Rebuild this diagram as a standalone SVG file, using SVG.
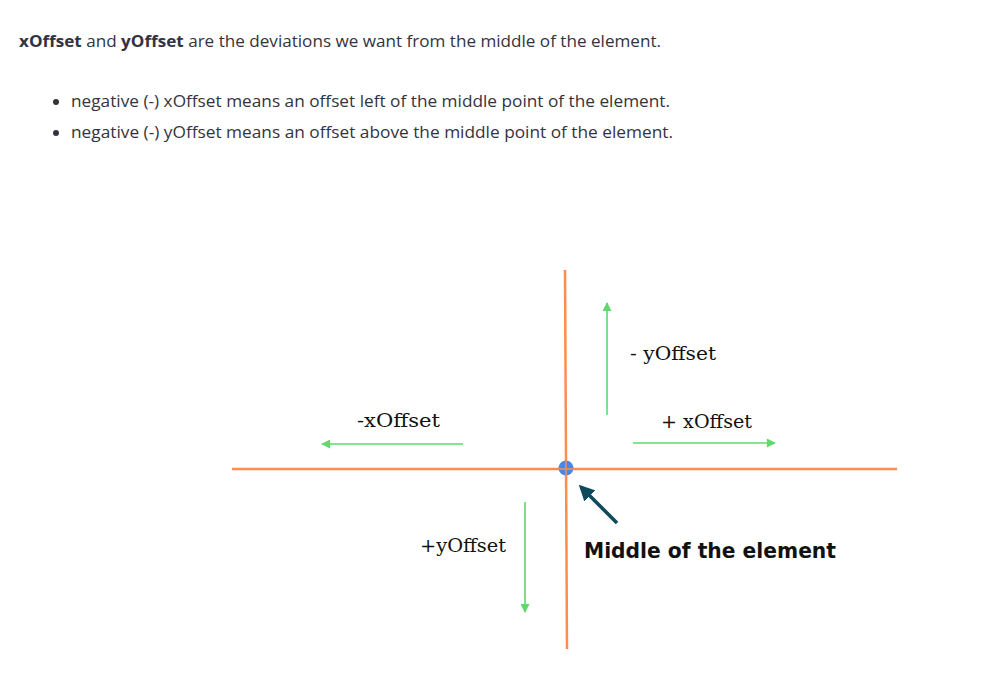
<svg xmlns="http://www.w3.org/2000/svg" width="999" height="684" viewBox="0 0 999 684">
<style>
.body{font-family:"Open Sans","Liberation Sans",sans-serif;font-size:16.5px;fill:#333340}
.b{font-weight:bold}
.lbl{font-family:"DejaVu Serif","Liberation Serif",serif;font-size:19px;fill:#111}
.mid{font-family:"DejaVu Sans","Liberation Sans",sans-serif;font-size:21px;font-weight:bold;fill:#111}
.axis{stroke:#ff8c4f;stroke-width:2.5;fill:none}
.g{stroke:#5fd96e;stroke-width:1.6;fill:none}
</style>
<defs>
<marker id="ga" viewBox="0 0 10 10" refX="9" refY="5" markerWidth="10" markerHeight="9" markerUnits="userSpaceOnUse" orient="auto"><path d="M0,0 L10,5 L0,10 z" fill="#5fd96e"/></marker>
<marker id="da" viewBox="0 0 10 10" refX="8" refY="5" markerWidth="4.5" markerHeight="4.5" orient="auto"><path d="M0,0 L10,5 L0,10 z" fill="#0d4a5c"/></marker>
</defs>
<rect width="999" height="684" fill="#fff"/>
<g id="intro">
<text class="body" x="19" y="47" textLength="642" lengthAdjust="spacingAndGlyphs"><tspan class="b">xOffset</tspan> and <tspan class="b">yOffset</tspan> are the deviations we want from the middle of the element.</text>
<circle cx="56" cy="102" r="3" fill="#333340"/>
<text class="body" x="71" y="107" textLength="599" lengthAdjust="spacingAndGlyphs">negative (-) xOffset means an offset left of the middle point of the element.</text>
<circle cx="56" cy="133" r="3" fill="#333340"/>
<text class="body" x="71" y="138" textLength="602" lengthAdjust="spacingAndGlyphs">negative (-) yOffset means an offset above the middle point of the element.</text>
</g>
<g id="axes">
<line class="axis" x1="565" y1="270" x2="567" y2="649"/>
<line class="axis" x1="232" y1="469" x2="897" y2="469"/>
</g>
<g id="connectors">
<line class="g" x1="607" y1="415" x2="607" y2="303" marker-end="url(#ga)"/>
<line class="g" x1="463" y1="444" x2="322" y2="444" marker-end="url(#ga)"/>
<line class="g" x1="633" y1="443" x2="775" y2="443" marker-end="url(#ga)"/>
<line class="g" x1="525" y1="502" x2="525" y2="612" marker-end="url(#ga)"/>
<line x1="617" y1="523" x2="581" y2="487" stroke="#0d4a5c" stroke-width="3.5" marker-end="url(#da)"/>
</g>
<g id="middle-point">
<circle cx="566" cy="468" r="7.5" fill="#4a88e8"/>
<line x1="566" y1="460" x2="566" y2="476" stroke="#ff8c4f" stroke-width="1.5"/>
<line x1="558" y1="469" x2="574" y2="469" stroke="#ff8c4f" stroke-width="1.5"/>
</g>
<g id="labels">
<text class="lbl" x="357" y="427" textLength="83" lengthAdjust="spacingAndGlyphs">-xOffset</text>
<text class="lbl" x="630" y="360" textLength="86" lengthAdjust="spacingAndGlyphs">- yOffset</text>
<text class="lbl" x="661" y="428" textLength="91" lengthAdjust="spacingAndGlyphs">+ xOffset</text>
<text class="lbl" x="420" y="552" textLength="86" lengthAdjust="spacingAndGlyphs">+yOffset</text>
<text class="mid" x="584" y="558" textLength="252" lengthAdjust="spacingAndGlyphs">Middle of the element</text>
</g>
</svg>
